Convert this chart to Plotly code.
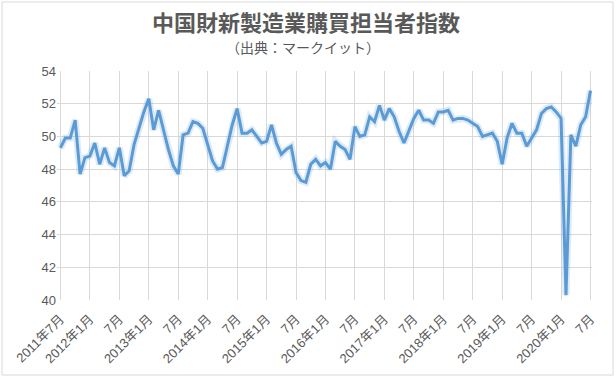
import plotly.graph_objects as go

pmi = [
    49.3, 49.9, 49.9, 51.0, 47.7, 48.7,
    48.8, 49.6, 48.3, 49.3, 48.4, 48.2, 49.3, 47.6, 47.9, 49.5, 50.5, 51.5,
    52.3, 50.4, 51.6, 50.4, 49.2, 48.2, 47.7, 50.1, 50.2, 50.9, 50.8, 50.5,
    49.5, 48.5, 48.0, 48.1, 49.4, 50.7, 51.7, 50.2, 50.2, 50.4, 50.0, 49.6,
    49.7, 50.7, 49.6, 48.9, 49.2, 49.4, 47.8, 47.3, 47.2, 48.3, 48.6, 48.2,
    48.4, 48.0, 49.7, 49.4, 49.2, 48.6, 50.6, 50.0, 50.1, 51.2, 50.9, 51.9,
    51.0, 51.7, 51.2, 50.3, 49.6, 50.4, 51.1, 51.6, 51.0, 51.0, 50.8, 51.5,
    51.5, 51.6, 51.0, 51.1, 51.1, 51.0, 50.8, 50.6, 50.0, 50.1, 50.2, 49.7,
    48.3, 49.9, 50.8, 50.2, 50.2, 49.4, 49.9, 50.4, 51.4, 51.7, 51.8, 51.5,
    51.1, 40.3, 50.1, 49.4, 50.7, 51.2, 52.8,
]

tick_labels = ["2011年7月", "2012年1月", "7月", "2013年1月", "7月", "2014年1月", "7月",
               "2015年1月", "7月", "2016年1月", "7月", "2017年1月", "7月", "2018年1月",
               "7月", "2019年1月", "7月", "2020年1月", "7月"]

idx = list(range(len(pmi)))
tick_pos = [i * 6 for i in range(len(tick_labels))]

fig = go.Figure()
fig.add_trace(go.Scatter(x=idx, y=pmi, mode="lines",
                         line=dict(color="rgba(91,155,213,0.2)", width=7),
                         hoverinfo="skip", showlegend=False))
fig.add_trace(go.Scatter(x=idx, y=pmi, mode="lines",
                         line=dict(color="#5B9BD5", width=3),
                         showlegend=False))

font_family = "Liberation Sans, Noto Sans CJK JP, sans-serif"
title_family = "Noto Sans CJK JP, sans-serif"

L, R, T, B = 57, 24, 71, 78
pw, ph = 616 - L - R, 378 - T - B

fig.update_layout(
    width=616, height=378,
    margin=dict(l=L, r=R, t=T, b=B, autoexpand=False),
    paper_bgcolor="white", plot_bgcolor="white",
    font=dict(family=font_family, color="#595959", size=12),
    xaxis=dict(range=[-0.7, 108.3], tickmode="array", tickvals=tick_pos,
               ticktext=tick_labels, tickangle=-45, showgrid=True,
               gridcolor="#D9D9D9", gridwidth=1, zeroline=False, automargin=False,
               showline=False, ticks="", ticklabelstandoff=8,
               tickfont=dict(size=13, color="#595959")),
    yaxis=dict(range=[40, 54], dtick=2, showgrid=True, gridcolor="#D9D9D9",
               gridwidth=1, zeroline=False, showline=False, ticks="", automargin=False,
               tickfont=dict(size=13, color="#595959")),
    annotations=[
        dict(text="<b>中国財新製造業購買担当者指数</b>", xref="paper", yref="paper",
             x=(306 - L) / pw, y=1.0, yshift=T - 21, xanchor="center", yanchor="middle",
             showarrow=False, font=dict(size=22, color="#595959", family=title_family)),
        dict(text="（出典：マークイット）", xref="paper", yref="paper",
             x=(303 - L) / pw, y=1.0, yshift=T - 47, xanchor="center", yanchor="middle",
             showarrow=False, font=dict(size=14, color="#595959", family=title_family)),
    ],
)

# outer chart border
fig.add_shape(type="rect", xref="paper", yref="paper",
              x0=(2 - L) / pw, x1=(613 - L) / pw,
              y0=((378 - B) - 375) / ph, y1=((378 - B) - 2) / ph,
              line=dict(color="#D9D9D9", width=1), layer="below")

fig.write_html("out.html", config={"displayModeBar": False},
               post_script="document.body.style.margin='0';document.body.style.overflow='hidden';")
